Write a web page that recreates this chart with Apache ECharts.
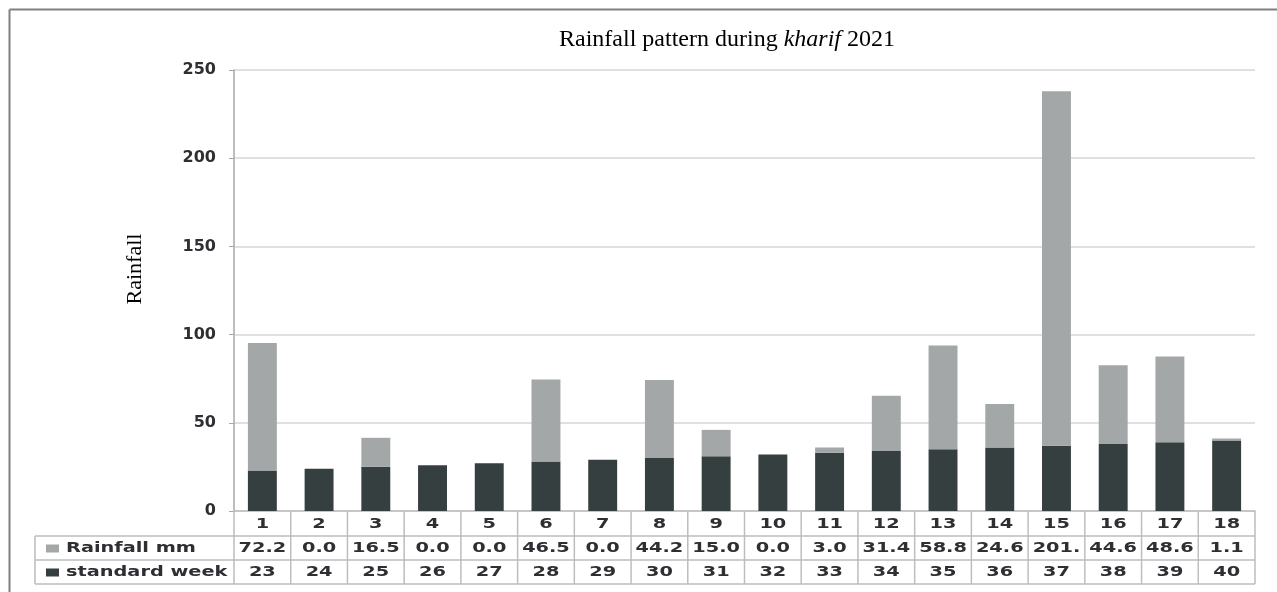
<!DOCTYPE html>
<html><head><meta charset="utf-8">
<script src="https://cdn.jsdelivr.net/npm/echarts@6/dist/echarts.min.js"></script>
<style>html,body{margin:0;padding:0;background:#fff}#c{width:1277px;height:592px}</style>
</head><body><div id="c"></div>
<script>
const categories = ['1','2','3','4','5','6','7','8','9','10','11','12','13','14','15','16','17','18'];
const rainfallMm = [72.2, 0.0, 16.5, 0.0, 0.0, 46.5, 0.0, 44.2, 15.0, 0.0, 3.0, 31.4, 58.8, 24.6, 201.0, 44.6, 48.6, 1.1];
const standardWeek = [23, 24, 25, 26, 27, 28, 29, 30, 31, 32, 33, 34, 35, 36, 37, 38, 39, 40];
const yTicks = [0, 50, 100, 150, 200, 250];
const rowLabels = ['Rainfall mm', 'standard week'];
const titleParts = ['Rainfall pattern during ', 'kharif', ' 2021'];
const yName = 'Rainfall';

const COLORS = { rain: '#a4a7a7', week: '#363f3f', grid: '#d6d6d6', axis: '#a8a8a8', table: '#bdbdbd', text: '#2e2e33' };

const chart = echarts.init(document.getElementById('c'));
chart.setOption({
  animation: false,
  grid: { left: 234, right: 22, top: 70, bottom: 81 },
  xAxis: {
    type: 'category', data: categories,
    axisLine: { lineStyle: { color: COLORS.table, width: 1.5 } },
    axisTick: { show: false }, axisLabel: { show: false }
  },
  yAxis: {
    type: 'value', min: yTicks[0], max: yTicks[yTicks.length - 1], interval: yTicks[1] - yTicks[0],
    axisLine: { show: true, lineStyle: { color: COLORS.axis, width: 1.5 } },
    axisTick: { show: true, length: 5, lineStyle: { color: COLORS.axis } },
    axisLabel: { margin: 18, fontFamily: 'DejaVu Sans', fontWeight: 'bold', fontSize: 16, color: COLORS.text },
    splitLine: { lineStyle: { color: COLORS.grid, width: 1.5 } }
  },
  series: [
    { name: 'standard week', type: 'bar', stack: 's', data: standardWeek, barWidth: '51%', itemStyle: { color: COLORS.week } },
    { name: 'Rainfall mm', type: 'bar', stack: 's', data: rainfallMm, itemStyle: { color: COLORS.rain } }
  ]
});

// Build the data table, title and frame from the chart's own scales
const g = [];
const base = chart.convertToPixel({ yAxisIndex: 0 }, 0);
const c0 = chart.convertToPixel({ xAxisIndex: 0 }, 0);
const c1 = chart.convertToPixel({ xAxisIndex: 0 }, 1);
const step = c1 - c0;
const leftEdge = c0 - step / 2;
const rightEdge = leftEdge + step * categories.length;
const rowH = [25, 24, 24];
const rowTop = [base, base + rowH[0], base + rowH[0] + rowH[1]];
const tableBottom = rowTop[2] + rowH[2];
const labelLeft = 35;
const font = 'bold 14px "DejaVu Sans"';
const sx = 1.38;
const lineStyle = { stroke: COLORS.table, lineWidth: 1.5 };

// horizontal table lines
[rowTop[1], rowTop[2], tableBottom].forEach(y => {
  g.push({ type: 'line', shape: { x1: labelLeft, y1: y, x2: rightEdge, y2: y }, style: lineStyle, z: 5 });
});
// vertical table lines
for (let i = 0; i <= categories.length; i++) {
  const x = leftEdge + i * step;
  g.push({ type: 'line', shape: { x1: x, y1: base, x2: x, y2: tableBottom }, style: lineStyle, z: 5 });
}
g.push({ type: 'line', shape: { x1: labelLeft, y1: rowTop[1], x2: labelLeft, y2: tableBottom }, style: lineStyle, z: 5 });

const fmtRain = v => v.toFixed(1).slice(0, 4);
const rows = [categories, rainfallMm.map(fmtRain), standardWeek.map(String)];
rows.forEach((vals, r) => {
  const cy = rowTop[r] + rowH[r] / 2 + 0.5;
  vals.forEach((t, i) => {
    const cx = chart.convertToPixel({ xAxisIndex: 0 }, i);
    g.push({ type: 'text', x: cx, y: cy, scaleX: sx, z: 6,
      style: { text: t, x: 0, y: 0, align: 'center', verticalAlign: 'middle', font: font, fill: COLORS.text } });
  });
});
// row labels with legend keys
[[rowLabels[0], COLORS.rain, 1], [rowLabels[1], COLORS.week, 2]].forEach(([label, col, r]) => {
  const cy = rowTop[r] + rowH[r] / 2 + 0.5;
  g.push({ type: 'rect', shape: { x: 46, y: cy - 4, width: 13, height: 8 }, style: { fill: col }, z: 6 });
  g.push({ type: 'text', x: 66, y: cy, scaleX: sx, z: 6,
    style: { text: label, x: 0, y: 0, align: 'left', verticalAlign: 'middle', font: font, fill: COLORS.text } });
});

// title
g.push({ type: 'text', x: 727, y: 40, z: 6,
  style: { text: '{n|' + titleParts[0] + '}{i|' + titleParts[1] + '}{n|' + titleParts[2] + '}',
    align: 'center', verticalAlign: 'middle',
    rich: { n: { fontFamily: 'Liberation Serif', fontSize: 24, fill: '#000', color: '#000' },
            i: { fontFamily: 'Liberation Serif', fontSize: 24, fontStyle: 'italic', fill: '#000', color: '#000' } } } });
// y axis name
g.push({ type: 'text', x: 135, y: 269, rotation: Math.PI / 2, z: 6,
  style: { text: yName, x: 0, y: 0, align: 'center', verticalAlign: 'middle', font: '22px "Liberation Serif"', fill: '#000' } });
// outer frame
g.push({ type: 'line', shape: { x1: 9.5, y1: 9.5, x2: 1277, y2: 9.5 }, style: { stroke: '#808080', lineWidth: 2 }, z: 6 });
g.push({ type: 'line', shape: { x1: 9.5, y1: 9.5, x2: 9.5, y2: 592 }, style: { stroke: '#808080', lineWidth: 2 }, z: 6 });

chart.setOption({ graphic: g });
</script>
</body></html>
